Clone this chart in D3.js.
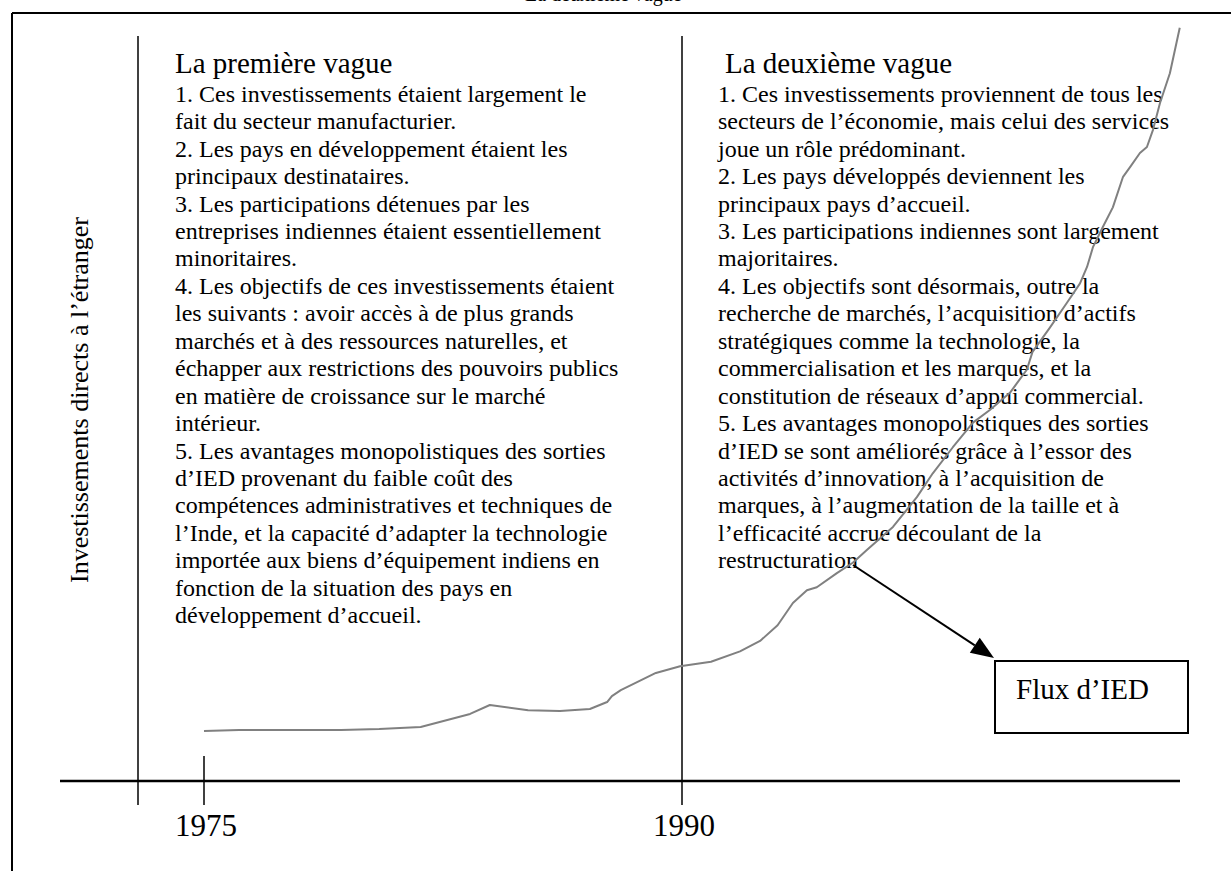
<!DOCTYPE html>
<html>
<head>
<meta charset="utf-8">
<script src="https://cdn.jsdelivr.net/npm/d3@7"></script>
<style>
  body { margin: 0; background: #fff; }
  text { font-family: "Liberation Serif", "Times New Roman", serif; fill: #000; }
</style>
</head>
<body>
<svg id="chart"></svg>
<script>

// years (x) and IED level (arbitrary index, y)
var years = [1975, 1976.1, 1979.3, 1980.5, 1981.8, 1983.35, 1983.97, 1985.17, 1986.17, 1987.11,
  1987.65, 1987.8, 1988.08, 1989.18, 1989.94, 1990.91, 1991.82, 1992.45, 1993.0, 1993.48,
  1993.92, 1994.23, 1994.86, 1995.36, 1995.8, 1996.62, 1997.37, 1997.87, 1998.5, 1999.13,
  1999.66, 2000.29, 2000.82, 2001.0, 2001.55, 2002.08, 2002.49, 2002.71, 2002.9, 2003.21,
  2003.52, 2003.84, 2004.06, 2004.37, 2004.59, 2004.78, 2005.0, 2005.31, 2005.62]

var flux = [6.7, 6.85, 6.85, 6.98, 7.25, 9.0, 10.2, 9.5, 9.4, 9.66,
  10.6, 11.4, 12.2, 14.5, 15.4, 16.0, 17.4, 18.8, 20.9, 23.9,
  25.6, 26.0, 27.9, 29.3, 31.0, 34.1, 38.1, 41.3, 44.8, 48.1,
  49.8, 52.1, 55.2, 57.6, 60.9, 64.2, 66.8, 69.0, 71.7, 74.4,
  77.0, 81.1, 82.4, 84.3, 85.1, 87.4, 91.0, 95.0, 101.1]

var tickYears = [1975, 1990]
var dividerYear = 1990

var topCaption = "La deuxième vague"
var yLabel = "Investissements directs à l’étranger"
var boxLabel = "Flux d’IED"

var firstTitle = "La première vague"
var firstLines = [
  "1. Ces investissements étaient largement le",
  "fait du secteur manufacturier.",
  "2. Les pays en développement étaient les",
  "principaux destinataires.",
  "3. Les participations détenues par les",
  "entreprises indiennes étaient essentiellement",
  "minoritaires.",
  "4. Les objectifs de ces investissements étaient",
  "les suivants : avoir accès à de plus grands",
  "marchés et à des ressources naturelles, et",
  "échapper aux restrictions des pouvoirs publics",
  "en matière de croissance sur le marché",
  "intérieur.",
  "5. Les avantages monopolistiques des sorties",
  "d’IED provenant du faible coût des",
  "compétences administratives et techniques de",
  "l’Inde, et la capacité d’adapter la technologie",
  "importée aux biens d’équipement indiens en",
  "fonction de la situation des pays en",
  "développement d’accueil."
]

var secondTitle = "La deuxième vague"
var secondLines = [
  "1. Ces investissements proviennent de tous les",
  "secteurs de l’économie, mais celui des services",
  "joue un rôle prédominant.",
  "2. Les pays développés deviennent les",
  "principaux pays d’accueil.",
  "3. Les participations indiennes sont largement",
  "majoritaires.",
  "4. Les objectifs sont désormais, outre la",
  "recherche de marchés, l’acquisition d’actifs",
  "stratégiques comme la technologie, la",
  "commercialisation et les marques, et la",
  "constitution de réseaux d’appui commercial.",
  "5. Les avantages monopolistiques des sorties",
  "d’IED se sont améliorés grâce à l’essor des",
  "activités d’innovation, à l’acquisition de",
  "marques, à l’augmentation de la taille et à",
  "l’efficacité accrue découlant de la",
  "restructuration"
]

var width = 1231, height = 871
var axisY = 781, axisTop = 36, axisBottom = 805

var svg = d3.select("#chart")
  .attr("width", width)
  .attr("height", height)

// scales
var xScale = d3.scaleLinear()
  .domain([1975, 1990])
  .range([204, 682])

var yScale = d3.scaleLinear()
  .domain([0, 100])
  .range([axisY, axisTop])

// caption cut off at the top of the page (as in the original)
svg.append("text")
  .attr("x", 525).attr("y", 1)
  .attr("font-size", 20)
  .text(topCaption)

// frame
svg.append("line")
  .attr("x1", 12).attr("x2", width).attr("y1", 13).attr("y2", 13)
  .attr("stroke", "#000").attr("stroke-width", 2)
svg.append("line")
  .attr("x1", 12).attr("x2", 12).attr("y1", 13).attr("y2", height)
  .attr("stroke", "#000").attr("stroke-width", 2)

// vertical axis + divider at 1990
svg.append("line")
  .attr("x1", 138).attr("x2", 138).attr("y1", axisTop).attr("y2", axisBottom)
  .attr("stroke", "#000").attr("stroke-width", 1.5)

svg.append("line")
  .attr("x1", xScale(dividerYear)).attr("x2", xScale(dividerYear))
  .attr("y1", axisTop).attr("y2", axisBottom)
  .attr("stroke", "#000").attr("stroke-width", 1.5)

// horizontal axis
svg.append("line")
  .attr("x1", 60).attr("x2", 1180).attr("y1", axisY).attr("y2", axisY)
  .attr("stroke", "#000").attr("stroke-width", 2.5)

// tick at 1975
svg.append("line")
  .attr("x1", xScale(1975)).attr("x2", xScale(1975))
  .attr("y1", 756).attr("y2", axisBottom)
  .attr("stroke", "#000").attr("stroke-width", 1.5)

svg.selectAll(".year")
  .data(tickYears)
  .enter().append("text")
  .attr("class", "year")
  .attr("x", d => xScale(d) + 2)
  .attr("y", 836)
  .attr("text-anchor", "middle")
  .attr("font-size", 31)
  .text(d => d)

// y label
svg.append("text")
  .attr("transform", "translate(88,400) rotate(-90)")
  .attr("text-anchor", "middle")
  .attr("font-size", 26)
  .text(yLabel)

// text blocks
function drawBlock(x, titleX, title, lines) {
  svg.append("text")
    .attr("x", titleX).attr("y", 73)
    .attr("font-size", 29)
    .text(title)

  svg.selectAll(null)
    .data(lines)
    .enter().append("text")
    .attr("x", x)
    .attr("y", (d, i) => 101.7 + i * 27.45)
    .attr("font-size", 24)
    .text(d => d)
}

drawBlock(175, 175, firstTitle, firstLines)
drawBlock(718, 725, secondTitle, secondLines)

// the flux curve
var points = years.map((d, i) => ({year: d, value: flux[i]}))

var line = d3.line()
  .x(d => xScale(d.year))
  .y(d => yScale(d.value))

svg.append("path")
  .datum(points)
  .attr("fill", "none")
  .attr("stroke", "#808080")
  .attr("stroke-width", 2)
  .attr("stroke-linejoin", "round")
  .attr("d", line)

// arrow pointing to the box
var arrowFrom = [853, 565], arrowTo = [994, 658]
var ang = Math.atan2(arrowTo[1] - arrowFrom[1], arrowTo[0] - arrowFrom[0])
var headLen = 23, headHalf = 9
var base = [arrowTo[0] - headLen * Math.cos(ang), arrowTo[1] - headLen * Math.sin(ang)]

svg.append("line")
  .attr("x1", arrowFrom[0]).attr("y1", arrowFrom[1])
  .attr("x2", base[0]).attr("y2", base[1])
  .attr("stroke", "#000").attr("stroke-width", 2)

svg.append("polygon")
  .attr("points", [
    arrowTo,
    [base[0] + headHalf * Math.sin(ang), base[1] - headHalf * Math.cos(ang)],
    [base[0] - headHalf * Math.sin(ang), base[1] + headHalf * Math.cos(ang)]
  ].map(p => p.join(",")).join(" "))
  .attr("fill", "#000")

// label box
svg.append("rect")
  .attr("x", 995).attr("y", 661)
  .attr("width", 193).attr("height", 72)
  .attr("fill", "#fff")
  .attr("stroke", "#000").attr("stroke-width", 2)

svg.append("text")
  .attr("x", 1016).attr("y", 699)
  .attr("font-size", 29)
  .text(boxLabel)

</script>
</body>
</html>
